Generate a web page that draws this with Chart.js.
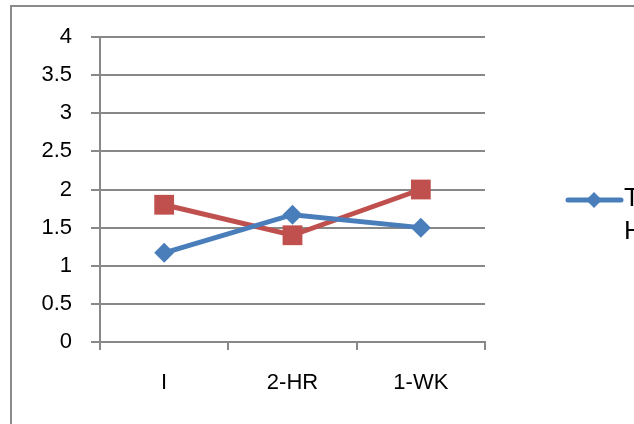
<!DOCTYPE html>
<html>
<head>
<meta charset="utf-8">
<script src="https://cdn.jsdelivr.net/npm/chart.js@4/dist/chart.umd.min.js"></script>
<style>
  html, body { margin: 0; padding: 0; background: #fff; overflow: hidden; }
  #wrap { position: relative; width: 634px; height: 424px; overflow: hidden; }
  canvas { position: absolute; left: 0; top: 0; }
</style>
</head>
<body>
<div id="wrap"><canvas id="c" width="720" height="440"></canvas></div>
<script>
// Time points and mean scores for each group
const categories = ["I", "2-HR", "1-WK"];
const seriesBlue = [1.17, 1.67, 1.5];
const seriesRed = [1.8, 1.4, 2.0];
const blueLabel = ["Tooth", "Hypersensitivity"];
const redLabel = "Control";
const yTicks = [0, 0.5, 1, 1.5, 2, 2.5, 3, 3.5, 4];

const BLUE = "#4a7ebb";
const RED = "#c0504d";
const GRID = "#888888";
const FONT = "'Liberation Sans', Arial, sans-serif";

// Outer chart frame
const framePlugin = {
  id: "frame",
  beforeDraw(chart) {
    const ctx = chart.ctx;
    ctx.save();
    ctx.strokeStyle = "#8a8a8a";
    ctx.lineWidth = 2;
    ctx.strokeRect(11, 6, 1000, 1000);
    ctx.restore();
  }
};

// Legend entry for the blue series, with its label on two lines
const legendPlugin = {
  id: "sideLegend",
  afterDraw(chart) {
    const ctx = chart.ctx;
    const y = 200;
    ctx.save();
    ctx.strokeStyle = BLUE;
    ctx.lineWidth = 5;
    ctx.lineCap = "round";
    ctx.beginPath();
    ctx.moveTo(568, y);
    ctx.lineTo(621, y);
    ctx.stroke();
    ctx.fillStyle = BLUE;
    ctx.beginPath();
    ctx.moveTo(594, y - 8); ctx.lineTo(602, y); ctx.lineTo(594, y + 8); ctx.lineTo(586, y);
    ctx.closePath();
    ctx.fill();
    ctx.fillStyle = "#000";
    ctx.font = "26px " + FONT;
    ctx.textBaseline = "middle";
    ctx.textAlign = "left";
    blueLabel.forEach((t, i) => ctx.fillText(t, 624, 199 + i * 33));
    ctx.restore();
  }
};

new Chart(document.getElementById("c"), {
  type: "line",
  data: {
    labels: categories,
    datasets: [
      {
        label: blueLabel.join(" "),
        data: seriesBlue,
        borderColor: BLUE,
        backgroundColor: BLUE,
        borderWidth: 5,
        pointStyle: "rectRot",
        pointRadius: 10,
        pointHoverRadius: 10,
        pointBorderWidth: 0,
        tension: 0
      },
      {
        label: redLabel,
        data: seriesRed,
        borderColor: RED,
        backgroundColor: RED,
        borderWidth: 5,
        pointStyle: "rect",
        pointRadius: 14,
        pointHoverRadius: 14,
        pointBorderWidth: 0,
        tension: 0
      }
    ]
  },
  options: {
    responsive: false,
    animation: false,
    layout: { padding: { left: 0, top: 37, right: 235, bottom: 0 } },
    plugins: {
      legend: { display: false },
      tooltip: { enabled: false }
    },
    scales: {
      x: {
        type: "category",
        offset: true,
        afterFit(scale) { scale.height = 98; },
        grid: {
          offset: true,
          drawOnChartArea: false,
          drawTicks: true,
          tickLength: 8,
          color: GRID,
          lineWidth: 2
        },
        border: { display: true, color: GRID, width: 2 },
        ticks: {
          color: "#000",
          font: { family: FONT, size: 22 },
          padding: 20,
          maxRotation: 0
        }
      },
      y: {
        min: 0,
        max: 4,
        afterFit(scale) { scale.width = 100; },
        afterBuildTicks(scale) { scale.ticks = yTicks.map(v => ({ value: v })); },
        grid: {
          color: GRID,
          lineWidth: 2,
          drawTicks: true,
          tickLength: 9,
        },
        border: { display: true, color: GRID, width: 2 },
        ticks: {
          color: "#000",
          font: { family: FONT, size: 22 },
          padding: 19,
          callback: v => String(v)
        }
      }
    }
  },
  plugins: [framePlugin, legendPlugin]
});
</script>
</body>
</html>
